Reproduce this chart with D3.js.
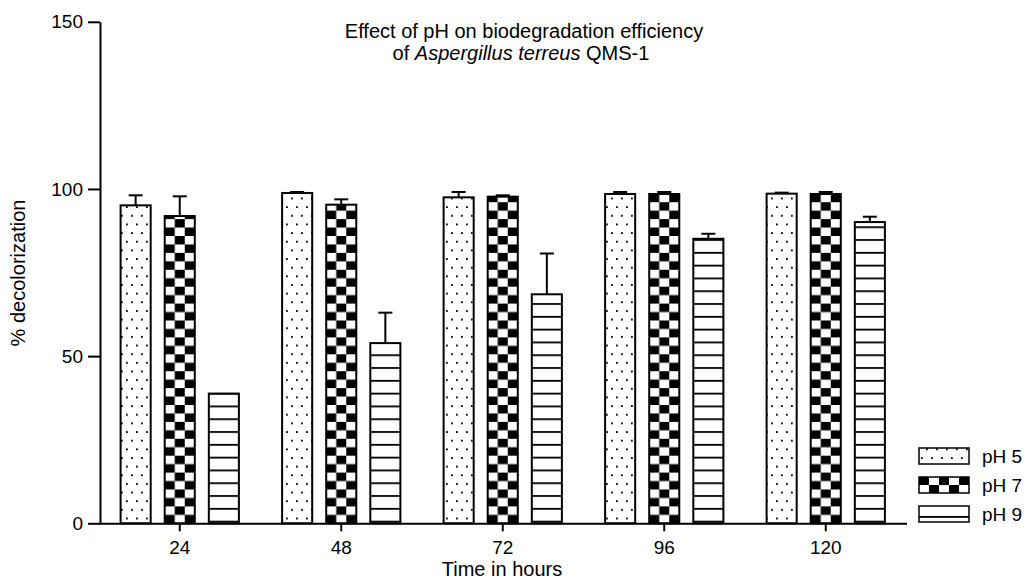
<!DOCTYPE html>
<html>
<head>
<meta charset="utf-8">
<script src="https://cdn.jsdelivr.net/npm/d3@7"></script>
<style>
  html, body { margin: 0; padding: 0; background: #fff; }
  svg { display: block; font-family: "Liberation Sans", Arial, sans-serif; }
</style>
</head>
<body>
<svg id="chart" width="1029" height="580"></svg>
<script>
// ---- data ----
const categories = ["24", "48", "72", "96", "120"];
const series = ["pH 5", "pH 7", "pH 9"];
const pH5 = [95.1, 98.8, 97.5, 98.5, 98.6];
const pH7 = [91.9, 95.3, 97.7, 98.5, 98.5];
const pH9 = [38.8, 53.9, 68.5, 85.1, 90.1];
const err5 = [3.0, 0.3, 1.6, 0.6, 0.3];
const err7 = [5.9, 1.6, 0.4, 0.6, 0.6];
const err9 = [0.0, 9.1, 12.2, 1.5, 1.6];
const yTicks = [0, 50, 100, 150];
const titleLine1 = "Effect of pH on biodegradation efficiency";
const xTitle = "Time in hours";
const yTitle = "% decolorization";

const values = [pH5, pH7, pH9];
const errors = [err5, err7, err9];

// ---- layout ----
const svg = d3.select("#chart");
const plotLeft = 99, plotRight = 906.5, plotTop = 21.8, plotBottom = 523.3;

const x0 = d3.scaleBand().domain(categories).range([plotLeft, plotRight]).padding(0);
const x1 = d3.scaleBand().domain(series).range([0, x0.bandwidth()])
  .paddingInner(14 / 44).paddingOuter(0.49);
const y = d3.scaleLinear().domain([0, 150]).range([plotBottom, plotTop]);

const defs = svg.append("defs");

// dotted pattern (pH 5)
const dots = defs.append("pattern").attr("id", "dots")
  .attr("patternUnits", "userSpaceOnUse")
  .attr("width", 10).attr("height", 17.3).attr("x", 121).attr("y", plotBottom);
dots.append("rect").attr("x", 0).attr("y", 3).attr("width", 1.8).attr("height", 1.8).attr("fill", "#000");
dots.append("rect").attr("x", 5).attr("y", 11.65).attr("width", 1.8).attr("height", 1.8).attr("fill", "#000");

// horizontal lines pattern (pH 9)
const hl = defs.append("pattern").attr("id", "hlines")
  .attr("patternUnits", "userSpaceOnUse")
  .attr("width", 10).attr("height", 12.8).attr("x", 0).attr("y", plotBottom - 2.6);
hl.append("rect").attr("x", 0).attr("y", 0).attr("width", 10).attr("height", 1.8).attr("fill", "#000");

// legend line pattern
const hlLeg = defs.append("pattern").attr("id", "hlinesLeg")
  .attr("patternUnits", "userSpaceOnUse")
  .attr("width", 10).attr("height", 100).attr("x", 0).attr("y", 516);
hlLeg.append("rect").attr("x", 0).attr("y", 0).attr("width", 10).attr("height", 1.8).attr("fill", "#000");

function checker(id, px, py, cw, ch, topBlack) {
  const p = defs.append("pattern").attr("id", id)
    .attr("patternUnits", "userSpaceOnUse")
    .attr("width", cw * 2).attr("height", ch * 2).attr("x", px).attr("y", py);
  p.append("rect").attr("width", cw * 2).attr("height", ch * 2).attr("fill", "#fff");
  if (topBlack) {
    p.append("rect").attr("x", 0).attr("y", 0).attr("width", cw).attr("height", ch).attr("fill", "#000");
    p.append("rect").attr("x", cw).attr("y", ch).attr("width", cw).attr("height", ch).attr("fill", "#000");
  } else {
    p.append("rect").attr("x", cw).attr("y", 0).attr("width", cw).attr("height", ch).attr("fill", "#000");
    p.append("rect").attr("x", 0).attr("y", ch).attr("width", cw).attr("height", ch).attr("fill", "#000");
  }
}

// ---- bars ----
const bw = x1.bandwidth();
const barData = [];
categories.forEach((c, i) => {
  series.forEach((s, j) => {
    barData.push({ c, s, j, v: values[j][i], e: errors[j][i], i });
  });
});

barData.forEach(d => {
  if (d.j === 1) {
    const bx = x0(d.c) + x1(d.s);
    checker("chk" + d.i, bx, plotBottom, bw / 3, 8.45, false);
  }
});

function fillFor(d) {
  if (d.j === 0) return "url(#dots)";
  if (d.j === 1) return "url(#chk" + d.i + ")";
  return "url(#hlines)";
}

const g = svg.append("g");
g.selectAll("rect.bar").data(barData).join("rect")
  .attr("class", "bar")
  .attr("x", d => x0(d.c) + x1(d.s))
  .attr("y", d => y(d.v))
  .attr("width", bw)
  .attr("height", d => y(0) - y(d.v))
  .attr("fill", d => fillFor(d))
  .attr("stroke", "#000")
  .attr("stroke-width", 2);

// error bars (upper)
const eb = g.selectAll("g.err").data(barData.filter(d => d.e > 0)).join("g").attr("class", "err");
eb.append("line")
  .attr("x1", d => x0(d.c) + x1(d.s) + bw / 2)
  .attr("x2", d => x0(d.c) + x1(d.s) + bw / 2)
  .attr("y1", d => y(d.v))
  .attr("y2", d => y(d.v + d.e))
  .attr("stroke", "#000").attr("stroke-width", 2);
eb.append("line")
  .attr("x1", d => x0(d.c) + x1(d.s) + bw / 2 - 7)
  .attr("x2", d => x0(d.c) + x1(d.s) + bw / 2 + 7)
  .attr("y1", d => y(d.v + d.e))
  .attr("y2", d => y(d.v + d.e))
  .attr("stroke", "#000").attr("stroke-width", 2);

// ---- axes ----
const xAxis = svg.append("g").attr("transform", `translate(0,${plotBottom})`)
  .call(d3.axisBottom(x0).tickSize(8).tickSizeOuter(0).tickPadding(9));
const yAxis = svg.append("g").attr("transform", `translate(${plotLeft + 1},0)`)
  .call(d3.axisLeft(y).tickValues(yTicks).tickSize(12).tickSizeOuter(0).tickPadding(5));

[xAxis, yAxis].forEach(a => {
  a.select(".domain").attr("stroke", "#000").attr("stroke-width", 2);
  a.selectAll(".tick line").attr("stroke", "#000").attr("stroke-width", 2);
  a.selectAll(".tick text").attr("fill", "#000")
    .style("font-family", "'Liberation Sans', Arial, sans-serif").style("font-size", "19px");
});

// ---- titles ----
const title = svg.append("text").attr("text-anchor", "middle")
  .style("font-size", "20px").attr("fill", "#000");
title.append("tspan").attr("x", 524).attr("y", 38).text(titleLine1);
const t2 = title.append("tspan").attr("x", 521).attr("y", 60);
t2.append("tspan").text("of ");
t2.append("tspan").style("font-style", "italic").text("Aspergillus terreus");
t2.append("tspan").text(" QMS-1");

svg.append("text").attr("x", 502).attr("y", 576).attr("text-anchor", "middle")
  .style("font-size", "20px").attr("fill", "#000").text(xTitle);

svg.append("text").attr("transform", "translate(25,273) rotate(-90)")
  .attr("text-anchor", "middle").style("font-size", "20px").attr("fill", "#000").text(yTitle);

// ---- legend ----
const legY = [448, 477, 506];
checker("chkLeg", 919, legY[1], 10, 8, true);
const legFill = ["url(#dots)", "url(#chkLeg)", "url(#hlinesLeg)"];
const leg = svg.append("g");
series.forEach((s, j) => {
  leg.append("rect").attr("x", 919).attr("y", legY[j]).attr("width", 50).attr("height", 16)
    .attr("fill", legFill[j]).attr("stroke", "#000").attr("stroke-width", 1.5);
  leg.append("text").attr("x", 982).attr("y", legY[j] + 8).attr("dy", "0.35em")
    .style("font-size", "19px").attr("fill", "#000").text(s);
});
</script>
</body>
</html>
